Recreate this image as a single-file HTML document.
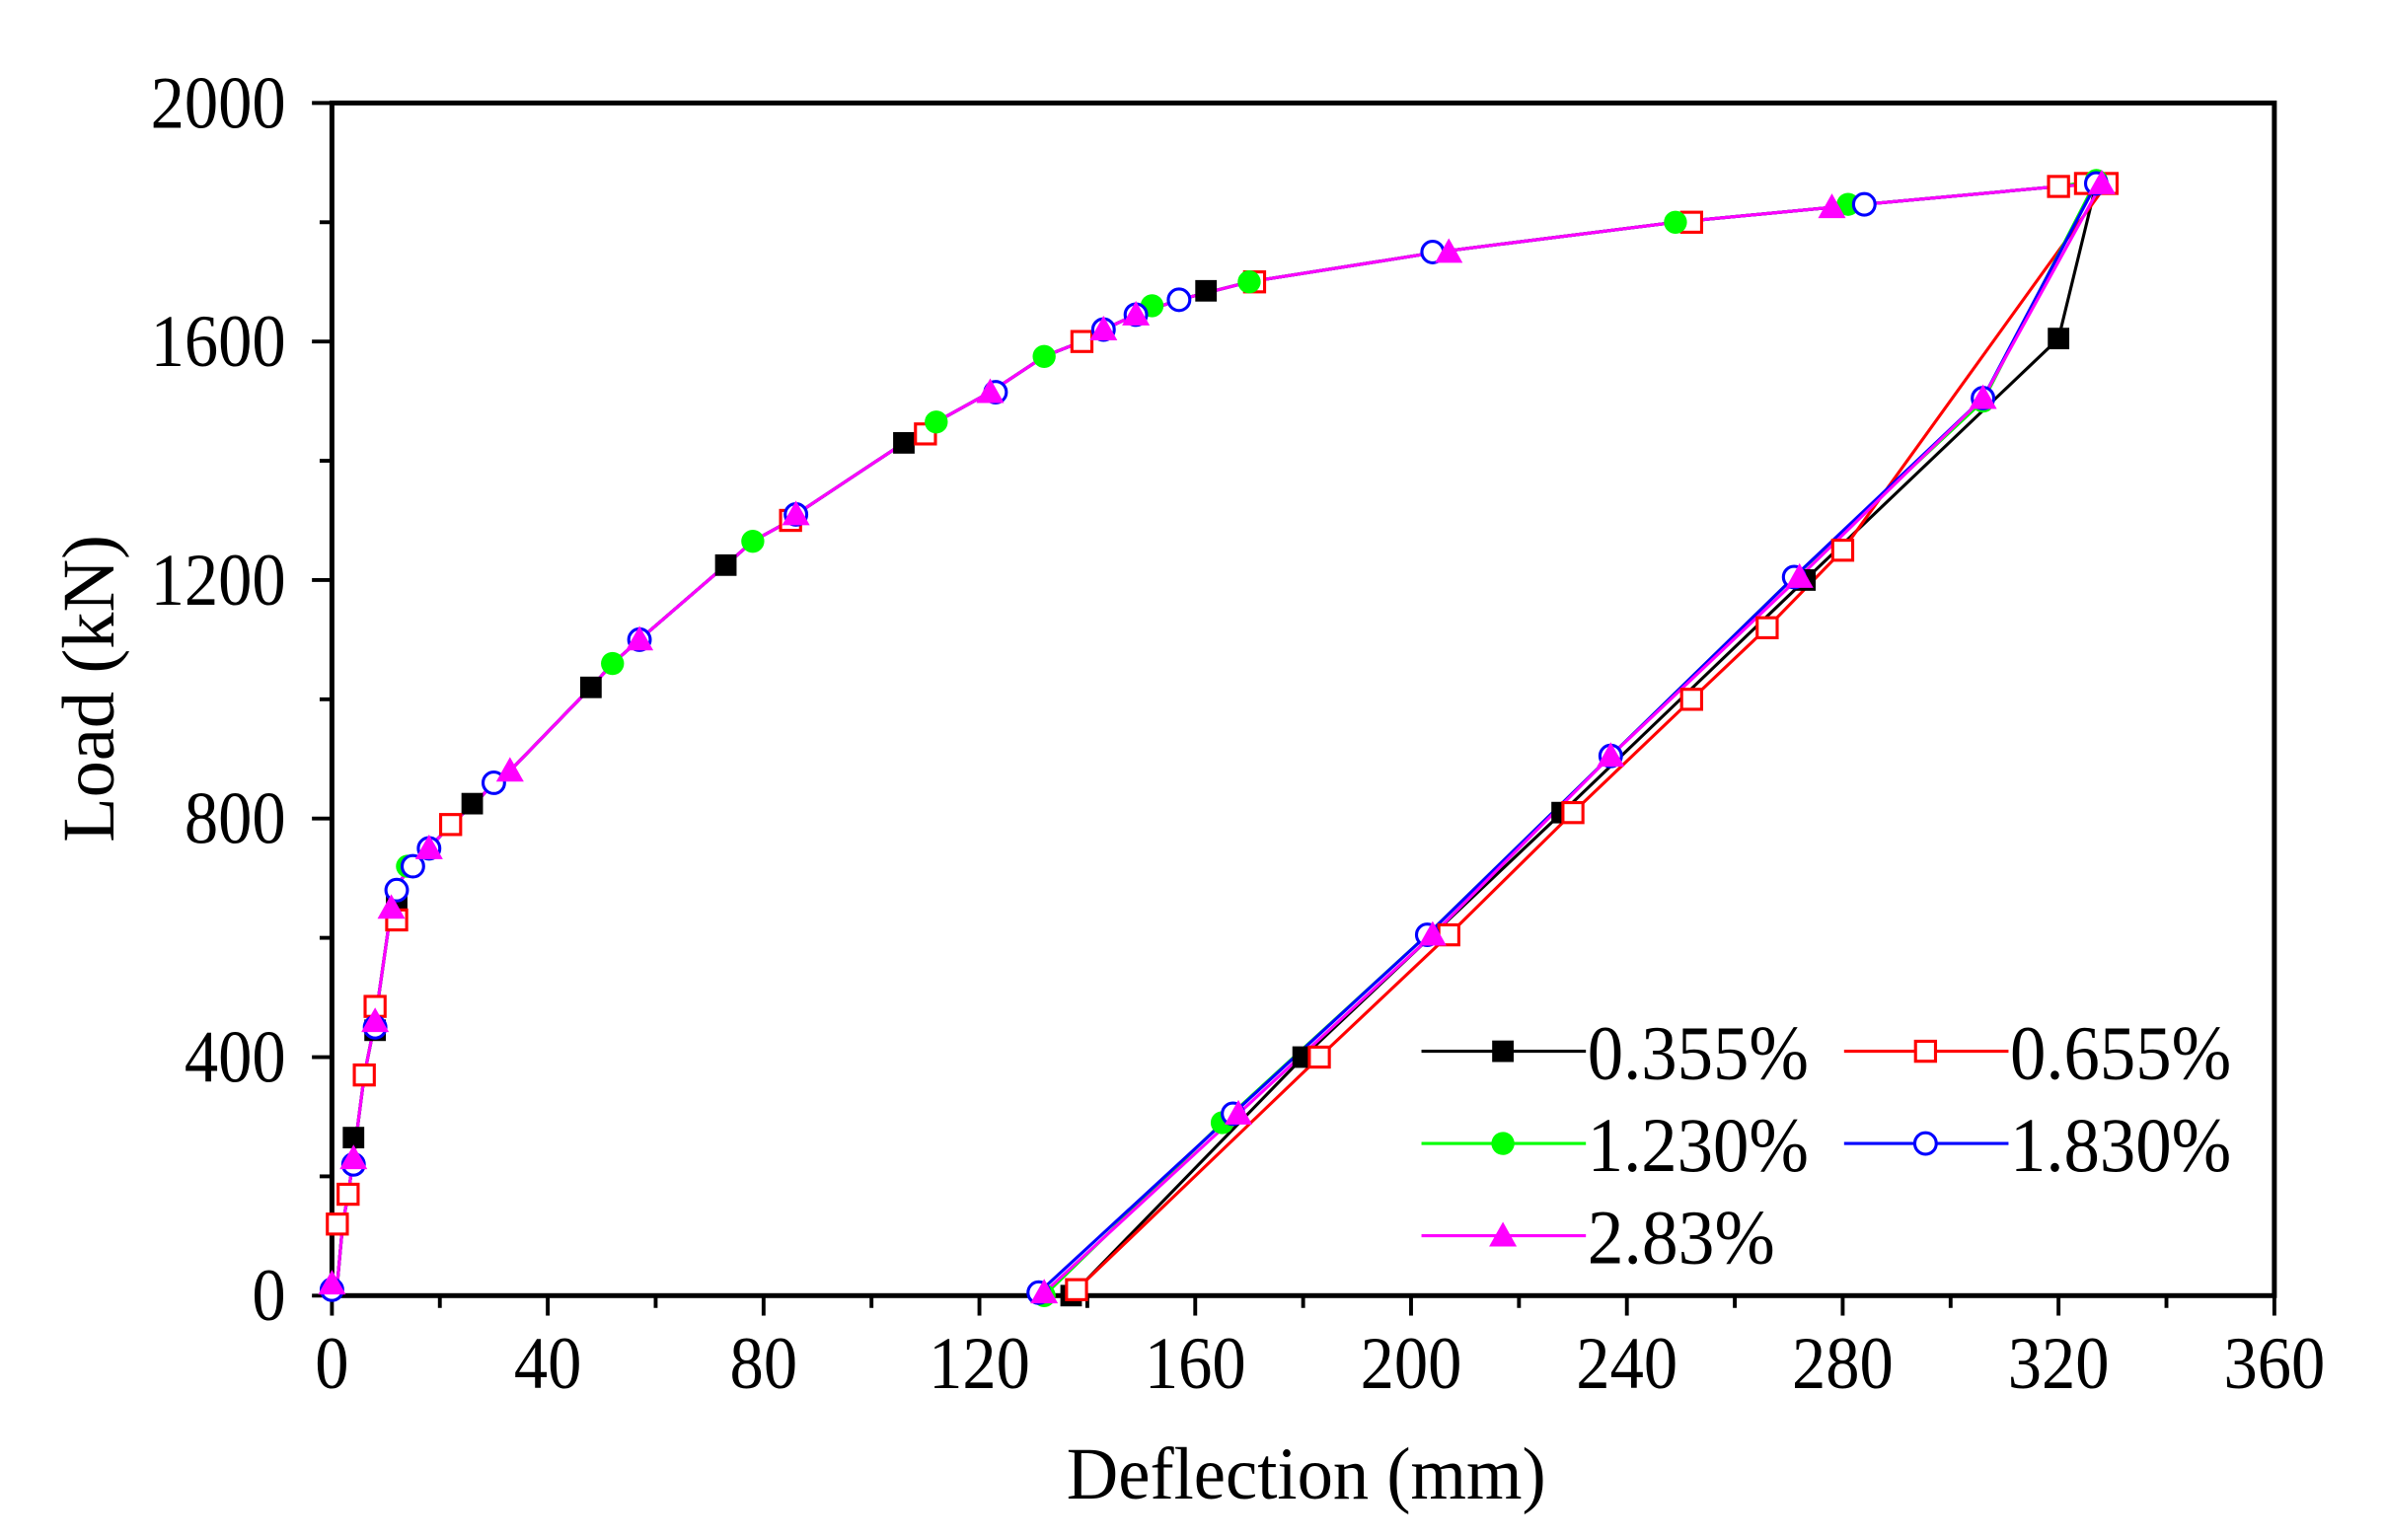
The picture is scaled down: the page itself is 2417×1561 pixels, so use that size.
<!DOCTYPE html>
<html><head><meta charset="utf-8"><style>
html,body{margin:0;padding:0;background:#fff;}
svg{display:block;}
text{font-family:"Liberation Serif",serif;fill:#000;}
</style></head><body>
<svg id="s" width="2417" height="1561" viewBox="0 0 1552 1002" preserveAspectRatio="none" xmlns="http://www.w3.org/2000/svg">
<g id="g"></g>
</svg>
<script>
const L=216,R=1480,T=67,B=843;
const X=v=>L+(R-L)*v/360, Y=v=>B-(B-T)*v/2000;
let h='';
h+=`<rect x="${L}" y="${T}" width="${R-L}" height="${B-T}" fill="none" stroke="#000" stroke-width="3.2"/>`;
for(let v=0;v<=360;v+=20){const x=X(v);const maj=v%40==0;h+=`<line x1="${x}" y1="${B}" x2="${x}" y2="${B+(maj?13:8)}" stroke="#000" stroke-width="2.5"/>`;if(maj){const s=String(v);h+=`<text x="${x}" y="${B+60}" font-size="48" text-anchor="middle" textLength="${s.length*22}" lengthAdjust="spacingAndGlyphs">${s}</text>`;}}
for(let v=0;v<=2000;v+=200){const y=Y(v);const maj=v%400==0;h+=`<line x1="${L}" y1="${y}" x2="${L-(maj?13:8)}" y2="${y}" stroke="#000" stroke-width="2.5"/>`;if(maj){const s=String(v);h+=`<text x="${L-30}" y="${y+16}" font-size="48" text-anchor="end" textLength="${s.length*22}" lengthAdjust="spacingAndGlyphs">${s}</text>`;}}
h+=`<text x="850" y="975" font-size="48" text-anchor="middle" textLength="312" lengthAdjust="spacingAndGlyphs">Deflection (mm)</text>`;
h+=`<text transform="translate(74,448) rotate(-90)" font-size="48" text-anchor="middle" textLength="200" lengthAdjust="spacingAndGlyphs">Load (kN)</text>`;
const load=[[0,0],[1,20],[2,120],[3,170],[4,230],[6,370],[8,460],[11,650],[13,700],[15,720],[18,750],[22,790],[27,830],[30,860],[33,880],[48,1020],[52,1060],[57,1100],[73,1225],[78,1265],[85,1300],[86,1310],[106,1430],[110,1445],[112,1465],[122,1515],[132,1575],[139,1600],[143,1620],[149,1645],[157,1670],[170,1700],[205,1750],[249,1800],[278,1825],[284,1830],[320,1860]];
const S=[
 {c:'#000',m:'sq',pk:[327,1865],mk:[[4,265],[8,445],[12,660],[26,825],[48,1020],[73,1225],[106,1430],[162,1685],[320,1860]],u:[[320,1605],[273,1200],[228,810],[180,400],[137,0]]},
 {c:'#f00',m:'osq',pk:[329,1865],mk:[[1,120],[3,170],[6,370],[8,485],[12,630],[22,790],[85,1300],[110,1445],[139,1600],[171,1700],[252,1800],[320,1860],[325,1865]],u:[[280,1250],[266,1120],[252,1000],[230,810],[207,605],[183,400],[138,10]]},
 {c:'#0f0',m:'ci',pk:[327,1870],mk:[[14,720],[52,1060],[78,1265],[112,1465],[132,1575],[152,1660],[170,1700],[249,1800],[281,1830]],u:[[306,1500],[271,1205],[237,905],[203,605],[165,290],[132,0]]},
 {c:'#00f',m:'oci',pk:[327,1865],mk:[[0,10],[4,220],[8,450],[12,680],[15,720],[18,750],[30,860],[57,1100],[86,1310],[123,1515],[143,1620],[149,1645],[157,1670],[204,1750],[284,1830]],u:[[306,1505],[271,1205],[237,905],[203,605],[167,305],[131,5]]},
 {c:'#f0f',m:'tri',pk:[328,1865],mk:[[0,20],[4,230],[8,460],[11,650],[18,750],[33,880],[57,1100],[86,1310],[122,1515],[143,1620],[149,1645],[207,1750],[278,1825]],u:[[306,1505],[272,1205],[237,905],[204,605],[168,305],[132,5]]}
];
function mark(m,x,y,c){
 if(m=='sq')return `<rect x="${x-7}" y="${y-7}" width="14" height="14" fill="${c}"/>`;
 if(m=='osq')return `<rect x="${x-6.5}" y="${y-6.5}" width="13" height="13" fill="#fff" stroke="${c}" stroke-width="2"/>`;
 if(m=='ci')return `<circle cx="${x}" cy="${y}" r="7.5" fill="${c}"/>`;
 if(m=='oci')return `<circle cx="${x}" cy="${y}" r="7" fill="#fff" stroke="${c}" stroke-width="2"/>`;
 return `<polygon points="${x},${y-9} ${x+9},${y+7} ${x-9},${y+7}" fill="${c}"/>`;
}
S.forEach(s=>{
 const pts=load.concat([s.pk],s.u);
 h+=`<polyline fill="none" stroke="${s.c}" stroke-width="2" points="${pts.map(p=>X(p[0])+','+Y(p[1])).join(' ')}"/>`;
});
S.forEach(s=>{
 s.mk.concat([s.pk],s.u).forEach(p=>h+=mark(s.m,X(p[0]),Y(p[1]),s.c));
});
const lg=[[925,684,0,'0.355%'],[1200,684,1,'0.655%'],[925,744,2,'1.230%'],[1200,744,3,'1.830%'],[925,804,4,'2.83%']];
lg.forEach(([x,y,i,t])=>{const s=S[i];
 h+=`<line x1="${x}" y1="${y}" x2="${x+107}" y2="${y}" stroke="${s.c}" stroke-width="2"/>`;
 h+=mark(s.m,x+53,y,s.c);
 h+=`<text x="${x+108}" y="${y+18}" font-size="50" textLength="${t.length==6?144:122}" lengthAdjust="spacingAndGlyphs">${t}</text>`;
});
document.getElementById('g').innerHTML=h;
</script>
</body></html>
